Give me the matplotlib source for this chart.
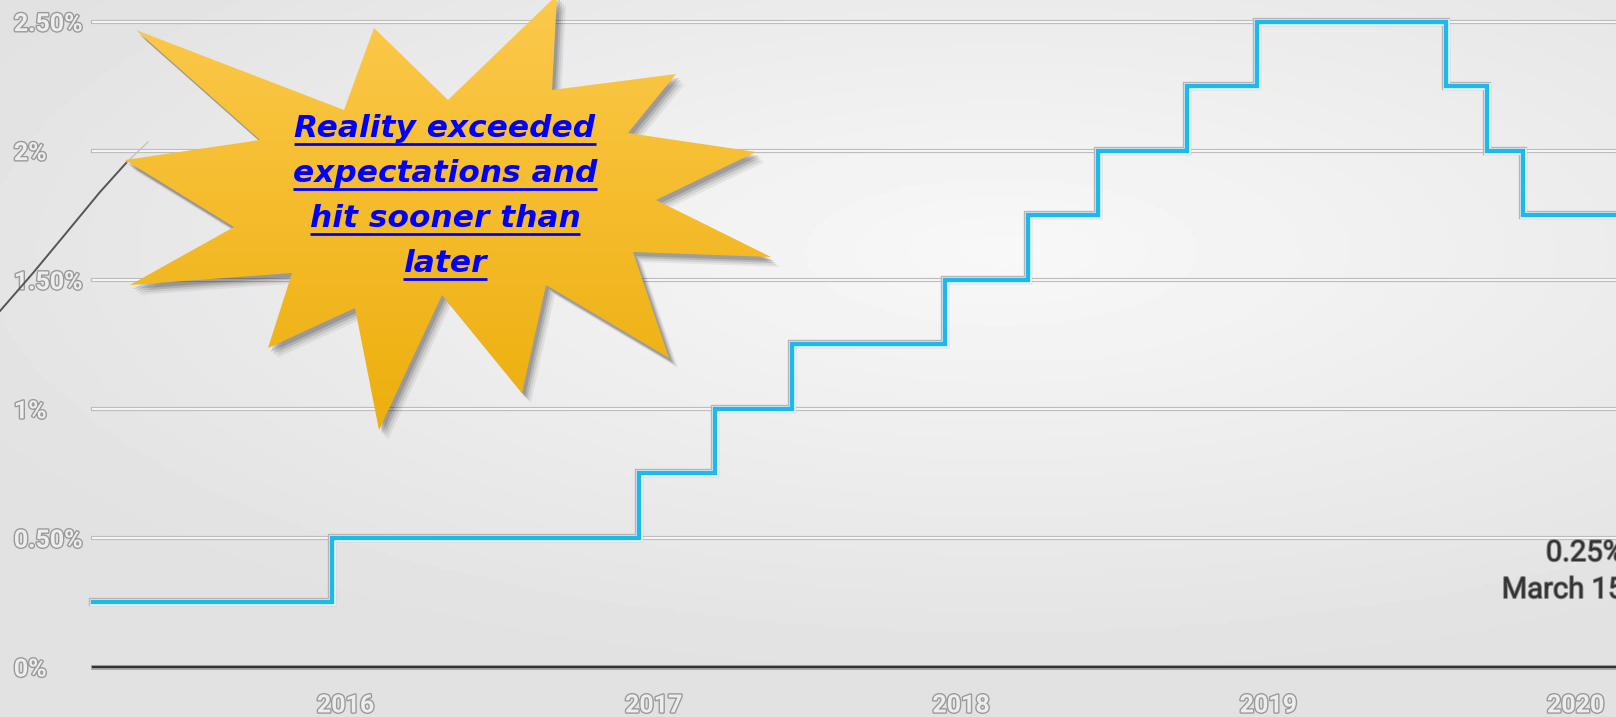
import numpy as np
import pandas as pd
import matplotlib
matplotlib.use("Agg")
import matplotlib.pyplot as plt
import matplotlib.patheffects as pe
from matplotlib.patches import Polygon

# --- data: Fed funds target rate (upper bound, %), decision dates
rate_dates = pd.to_datetime([
    "2015-03-07", "2015-12-16", "2016-12-14", "2017-03-15", "2017-06-14",
    "2017-12-13", "2018-03-21", "2018-06-13", "2018-09-26", "2018-12-19",
    "2019-07-31", "2019-09-18", "2019-10-30", "2020-02-18",
])
rates = [0.25, 0.50, 0.75, 1.00, 1.25, 1.50, 1.75, 2.00, 2.25, 2.50,
         2.25, 2.00, 1.75, 1.75]

y_ticks = [0, 0.5, 1, 1.5, 2, 2.5]
y_labels = ["0%", "0.50%", "1%", "1.50%", "2%", "2.50%"]
year_ticks = pd.to_datetime(["2016-01-01", "2017-01-01", "2018-01-01",
                             "2019-01-01", "2020-01-01"])
year_labels = ["2016", "2017", "2018", "2019", "2020"]
x_start, x_end = pd.Timestamp("2015-03-07"), pd.Timestamp("2020-02-18")

callout_lines = ["Reality exceeded", "expectations and", "hit sooner than", "later"]
note_lines = ["0.25%", "March 15"]

# callout star outline, figure pixels (decoration, not data)
star = [(136, 30), (260, 140), (125, 160), (234, 227), (130, 285), (292, 273),
        (268, 348), (355, 308), (379, 430), (442, 295), (522, 393), (546, 285),
        (669, 358), (633, 252), (771, 257), (656, 200), (756, 152), (628, 133),
        (676, 74), (552, 90), (557, -5), (448, 100), (374, 28), (344, 110)]

W, H = 1616, 717
fig = plt.figure(figsize=(W / 100, H / 100), dpi=100)

# --- background: soft grey radial gradient
bg = fig.add_axes([0, 0, 1, 1], zorder=-10)
yy, xx = np.mgrid[0:1:200j, 0:1:400j]
r = np.sqrt(((xx - 0.62) / 1.3) ** 2 + ((yy - 0.35) / 1.1) ** 2)
shade = np.clip(0.972 - 0.16 * r, 0.885, 1)
bg.imshow(shade, cmap="gray", vmin=0, vmax=1, aspect="auto", extent=(0, 1, 0, 1))
bg.axis("off")

# --- main axes
ax = fig.add_axes([93 / W, (H - 667) / H, (W - 93) / W, (667 - 21.6) / H])
ax.set_facecolor("none")
ax.set_xlim(x_start, x_end)
ax.set_ylim(0, 2.5)
for s in ax.spines.values():
    s.set_visible(False)

for y in y_ticks[1:]:
    ax.axhline(y, color="#bdbdbd", lw=3.0, clip_on=False, zorder=1)
    ax.axhline(y, color="#fbfbfb", lw=1.3, clip_on=False, zorder=1)
ax.axhline(0, color="#a8a8a8", lw=3.6, clip_on=False, zorder=1)
ax.axhline(0, color="#333333", lw=1.6, clip_on=False, zorder=1)

ax.step(rate_dates, rates, where="post", color="#b5b5b5", lw=6.0,
        clip_on=False, zorder=3, solid_joinstyle="miter")
ax.step(rate_dates, rates, where="post", color="#f8f8f8", lw=4.8,
        clip_on=False, zorder=3, solid_joinstyle="miter")
ax.step(rate_dates, rates, where="post", color="#1db9ec", lw=3.2,
        clip_on=False, zorder=4, solid_joinstyle="miter")

tick_font = dict(family=["Roboto", "DejaVu Sans"], weight="bold")
outline = [pe.withStroke(linewidth=2.0, foreground="#9a9a9a")]
ax.set_yticks(y_ticks)
ax.set_yticklabels(y_labels, ha="left", color="#ededed", fontsize=18, **tick_font)
ax.tick_params(axis="y", length=0, pad=57)
ax.set_xticks(year_ticks)
ax.set_xticklabels(year_labels, color="#ededed", fontsize=18, **tick_font)
ax.tick_params(axis="x", length=0, pad=19)
for lab in ax.get_yticklabels() + ax.get_xticklabels():
    lab.set_path_effects(outline)

# --- overlay in figure pixels for the callout
ov = fig.add_axes([0, 0, 1, 1], zorder=5)
ov.set_xlim(0, W)
ov.set_ylim(H, 0)
ov.axis("off")
ov.patch.set_alpha(0)

# faint pointer line behind the star
ov.plot([0, 33, 67, 100, 127], [311, 273, 232, 192, 162], color="#555555", lw=1.4, zorder=1)
ov.plot([127, 148], [162, 142], color="#c4c4c4", lw=1.0, zorder=1)

pts = np.array(star, dtype=float)
for dx, dy, a in [(9, 10, 0.06), (7, 8, 0.08), (5, 6, 0.12), (3, 4, 0.14)]:
    ov.add_patch(Polygon(pts + [dx, dy], closed=True, fc="black", ec="none",
                         alpha=a, zorder=2))
star_patch = Polygon(pts, closed=True, fc="none", ec="none", zorder=3)
ov.add_patch(star_patch)
t = np.linspace(0, 1, 256)[:, None, None]
top = np.array([252, 201, 76]) / 255
bot = np.array([237, 175, 12]) / 255
grad = np.repeat(top * (1 - t) + bot * t, 2, axis=1)
img = ov.imshow(grad, extent=(pts[:, 0].min(), pts[:, 0].max(), pts[:, 1].max(),
                              pts[:, 1].min()), aspect="auto", zorder=3)
img.set_clip_path(star_patch)
ov.set_xlim(0, W)
ov.set_ylim(H, 0)

texts = []
for i, line in enumerate(callout_lines):
    texts.append(ov.text(445, 137 + 45 * i, line, ha="center", va="baseline",
                         fontsize=22.5, fontweight="bold", fontstyle="italic",
                         color="#0000ff", zorder=6))
fig.canvas.draw()
for i, tx in enumerate(texts):
    bb = tx.get_window_extent()
    yb = 137 + 45 * i + 7
    ov.plot([bb.x0, bb.x1], [yb, yb], color="#0000ff", lw=2.0, zorder=6,
            solid_capstyle="butt")

# --- right-side note (cut by the figure edge, as in the source slide)
note_font = dict(family=["Roboto", "DejaVu Sans"], weight="normal")
for i, line in enumerate(note_lines):
    ov.text(1624, 553 + 37 * i, line, ha="right", va="center", fontsize=21,
            color="#333333", zorder=6, clip_on=False,
            path_effects=[pe.withStroke(linewidth=1.4, foreground="#8a8a8a")],
            **note_font)

fig.savefig("out.png", dpi=100)
